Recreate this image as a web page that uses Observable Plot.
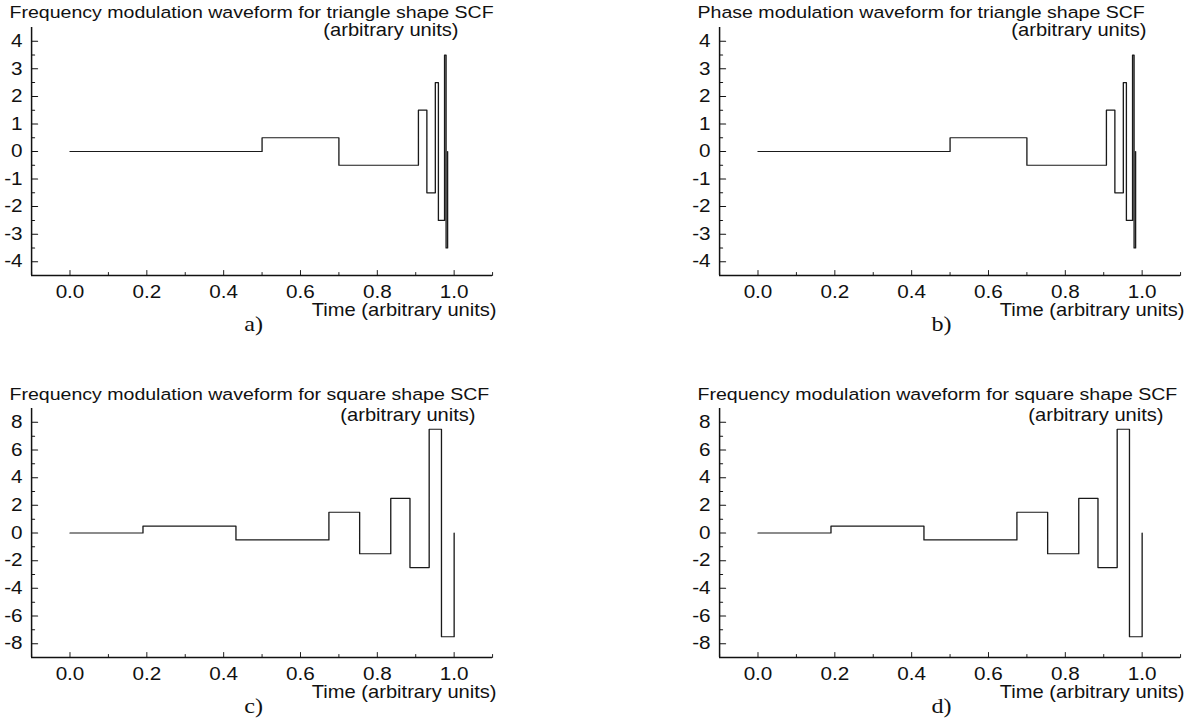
<!DOCTYPE html>
<html>
<head>
<meta charset="utf-8">
<script src="https://cdn.jsdelivr.net/npm/d3@7"></script>
<script src="https://cdn.jsdelivr.net/npm/@observablehq/plot@0.6"></script>
<style>
  html, body { margin: 0; padding: 0; background: #fff; }
  #root { position: relative; width: 1202px; height: 720px; overflow: hidden; background: #fff; }
  #root svg { position: absolute; transform-origin: 0 0; background: transparent; }
</style>
</head>
<body>
<div id="root"></div>
<script>
// ---- data ----
const triTimes  = [0, 0.5, 0.7, 0.907, 0.929, 0.951, 0.959, 0.975, 0.979, 0.983];
const triValues = [0, 0.5, -0.5, 1.5, -1.5, 2.5, -2.5, 3.5, -3.5, 0];
const sqTimes   = [0, 0.19, 0.432, 0.674, 0.754, 0.835, 0.885, 0.935, 0.967, 1.0];
const sqValues  = [0, 0.5, -0.5, 1.5, -1.5, 2.5, -2.5, 7.5, -7.5, 0];

const xDomain     = [-0.1, 1.1];
const xTickValues = [0, 0.2, 0.4, 0.6, 0.8, 1.0];
const xMinorTicks = [-0.1, 0.1, 0.3, 0.5, 0.7, 0.9, 1.1];

const triYDomain = [-4.5, 4.5];
const triYTicks  = [-4, -3, -2, -1, 0, 1, 2, 3, 4];
const triYMinor  = [-3.5, -2.5, -1.5, -0.5, 0.5, 1.5, 2.5, 3.5];
const sqYDomain  = [-9, 9];
const sqYTicks   = [-8, -6, -4, -2, 0, 2, 4, 6, 8];
const sqYMinor   = [-7, -5, -3, -1, 1, 3, 5, 7];

const titles = [
  "Frequency modulation waveform for triangle shape SCF",
  "Phase modulation waveform for triangle shape SCF",
  "Frequency modulation waveform for square shape SCF",
  "Frequency modulation waveform for square shape SCF"
];
const captions = ["a)", "b)", "c)", "d)"];
const xLabel = "Time (arbitrary units)";
const yLabel = "(arbitrary units)";

// ---- layout / style ----
const S = 1.15;            // horizontal stretch of the original figure
const PW = 520, PH = 345;  // panel size on screen
const axisLeft = 31, axisRight = 492, axisBottom = 275;
const FONT = "'Liberation Sans', Arial, Helvetica, sans-serif";
const SERIF = "'Liberation Serif', 'Times New Roman', serif";
const INK = "#111";

const tickShape = { draw(context, l) { context.moveTo(0, 0); context.lineTo(0, -l); } };

const panels = [
  { left: 0,   top: 0,   title: titles[0], caption: captions[0], times: triTimes, values: triValues,
    yDomain: triYDomain, yTicks: triYTicks, yMinor: triYMinor, axisTop: 27, yLabelRight: 458, yLabelBase: 35 },
  { left: 688, top: 0,   title: titles[1], caption: captions[1], times: triTimes, values: triValues,
    yDomain: triYDomain, yTicks: triYTicks, yMinor: triYMinor, axisTop: 27, yLabelRight: 458, yLabelBase: 35 },
  { left: 0,   top: 382, title: titles[2], caption: captions[2], times: sqTimes, values: sqValues,
    yDomain: sqYDomain, yTicks: sqYTicks, yMinor: sqYMinor, axisTop: 26, yLabelRight: 475, yLabelBase: 38 },
  { left: 688, top: 382, title: titles[3], caption: captions[3], times: sqTimes, values: sqValues,
    yDomain: sqYDomain, yTicks: sqYTicks, yMinor: sqYMinor, axisTop: 26, yLabelRight: 475, yLabelBase: 38 }
];

const root = document.getElementById("root");

for (const p of panels) {
  const series = p.times.map((t, i) => ({ t, v: p.values[i] }));
  const marginTop = p.axisTop;
  const marginBottom = PH - axisBottom;
  const topOf = (baseline, fs) => baseline - 0.71 * fs; // y of top line anchor for a given baseline

  const svg = Plot.plot({
    width: PW / S,
    height: PH,
    marginLeft: axisLeft / S,
    marginRight: (PW - axisRight) / S,
    marginTop,
    marginBottom,
    style: { fontFamily: FONT, fontSize: "17px", color: INK, background: "transparent", overflow: "visible" },
    x: { domain: xDomain, label: null },
    y: { domain: p.yDomain, label: null },
    marks: [
      // axis lines
      Plot.ruleX([xDomain[0]], { stroke: INK, strokeWidth: 1.5 / S }),
      Plot.ruleY([p.yDomain[0]], { stroke: INK, strokeWidth: 1.5 }),
      // inward ticks
      Plot.vectorY(p.yTicks, { frameAnchor: "left", length: 6 / S, rotate: 90, anchor: "start", shape: tickShape, stroke: INK, strokeWidth: 1 }),
      Plot.vectorY(p.yMinor, { frameAnchor: "left", length: 3 / S, rotate: 90, anchor: "start", shape: tickShape, stroke: INK, strokeWidth: 1 }),
      Plot.vectorX(xTickValues, { frameAnchor: "bottom", length: 5, rotate: 0, anchor: "start", shape: tickShape, stroke: INK, strokeWidth: 1 / S }),
      Plot.vectorX(xMinorTicks, { frameAnchor: "bottom", length: 3, rotate: 0, anchor: "start", shape: tickShape, stroke: INK, strokeWidth: 1 / S }),
      // tick labels
      Plot.axisY({ ticks: p.yTicks, tickSize: 0, tickPadding: 9 / S, tickFormat: d => String(d), fontSize: 18, label: null, fill: INK }),
      Plot.axisX({ ticks: xTickValues, tickSize: 0, tickPadding: 10, tickFormat: d3.format(".1f"), fontSize: 18, label: null, fill: INK }),
      // waveform
      Plot.line(series, { x: "t", y: "v", curve: "step-after", stroke: "#1a1a1a", strokeWidth: 1.15 }),
      // title
      Plot.text([p.title], { text: d => d, frameAnchor: "top-left", textAnchor: "start", lineAnchor: "top",
        dx: (9 - axisLeft) / S, dy: topOf(17, 17) - marginTop, fontSize: 17, fill: INK }),
      // y unit label
      Plot.text([yLabel], { text: d => d, frameAnchor: "top-right", textAnchor: "end", lineAnchor: "top",
        dx: (p.yLabelRight - axisRight) / S, dy: topOf(p.yLabelBase, 17.5) - marginTop, fontSize: 17.5, fill: INK }),
      // x label
      Plot.text([xLabel], { text: d => d, frameAnchor: "bottom-right", textAnchor: "end", lineAnchor: "top",
        dx: (496 - axisRight) / S, dy: topOf(316, 17.5) - axisBottom, fontSize: 17.5, fill: INK }),
      // caption
      Plot.text([p.caption], { text: d => d, frameAnchor: "bottom", textAnchor: "middle", lineAnchor: "top",
        dx: (253 - (axisLeft + axisRight) / 2) / S, dy: topOf(331, 21) - axisBottom, fontSize: 21, fontFamily: SERIF, fill: INK })
    ]
  });
  svg.style.left = p.left + "px";
  svg.style.top = p.top + "px";
  svg.style.transform = `scaleX(${S})`;
  root.appendChild(svg);
}
</script>
</body>
</html>
